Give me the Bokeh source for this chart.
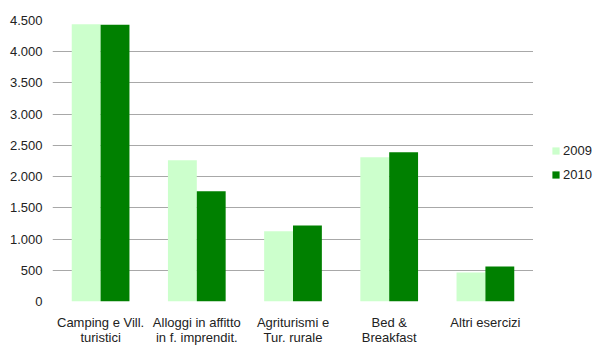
from bokeh.plotting import figure
from bokeh.models import ColumnDataSource, FactorRange, Range1d, Legend, LegendItem, FixedTicker
from bokeh.layouts import row
from bokeh.transform import dodge
from bokeh.embed import file_html
from bokeh.resources import INLINE

categories = ["Camping e Vill.\nturistici", "Alloggi in affitto\nin f. imprendit.",
              "Agriturismi e\nTur. rurale", "Bed &\nBreakfast", "Altri esercizi"]
values_2009 = [4440, 2262, 1123, 2310, 465]
values_2010 = [4430, 1765, 1219, 2390, 561]
series_names = ["2009", "2010"]
colors = ["#ccffcc", "#008000"]
y_ticks = [0, 500, 1000, 1500, 2000, 2500, 3000, 3500, 4000, 4500]
y_tick_labels = ["0", "500", "1.000", "1.500", "2.000", "2.500", "3.000", "3.500", "4.000", "4.500"]

source = ColumnDataSource(dict(cat=categories, v2009=values_2009, v2010=values_2010))

p = figure(frame_width=481, frame_height=281, x_range=FactorRange(*categories, range_padding=0),
           y_range=(0, 4500), output_backend="svg", toolbar_location=None,
           min_border_left=52, min_border_right=0, min_border_top=20, min_border_bottom=0)
p.outline_line_color = None
p.background_fill_color = "white"
p.border_fill_color = "white"

r1 = p.vbar(x=dodge("cat", -0.15, range=p.x_range), top="v2009", width=0.3,
            source=source, fill_color=colors[0], line_color=None)
r2 = p.vbar(x=dodge("cat", 0.15, range=p.x_range), top="v2010", width=0.3,
            source=source, fill_color=colors[1], line_color=None)

p.xgrid.grid_line_color = None
p.ygrid.grid_line_color = "#a8a8a8"
p.ygrid.grid_line_width = 1
p.yaxis.ticker = FixedTicker(ticks=y_ticks)
p.yaxis.major_label_overrides = {t: l for t, l in zip(y_ticks, y_tick_labels)}

for ax in (p.xaxis[0], p.yaxis[0]):
    ax.axis_line_color = None
    ax.major_tick_line_color = None
    ax.minor_tick_line_color = None
    ax.major_tick_in = 0
    ax.major_tick_out = 0
    ax.minor_tick_in = 0
    ax.minor_tick_out = 0
    ax.major_label_text_font = "Liberation Sans"
    ax.major_label_text_font_size = "13px"
    ax.major_label_text_color = "#222222"
p.yaxis.major_label_standoff = 10
p.xaxis.major_label_standoff = 13
p.xaxis.major_label_text_line_height = 1.0

# legend panel: zero-size proxy bars from the same data, outside its visible y range
lg = figure(width=62, height=345, output_backend="svg", toolbar_location=None,
            min_border=0, x_range=FactorRange(*categories), y_range=Range1d(10000, 10001))
lg.outline_line_color = None
lg.axis.visible = False
lg.grid.visible = False
l1 = lg.vbar(x="cat", top="v2009", bottom="v2009", width=0, source=source,
             fill_color=colors[0], line_color=None)
l2 = lg.vbar(x="cat", top="v2010", bottom="v2010", width=0, source=source,
             fill_color=colors[1], line_color=None)
legend = Legend(items=[LegendItem(label=series_names[0], renderers=[l1]),
                       LegendItem(label=series_names[1], renderers=[l2])],
                location=(18, 117), orientation="vertical",
                glyph_width=9, glyph_height=9, label_standoff=3, spacing=9,
                padding=0, margin=0, border_line_color=None, background_fill_alpha=0,
                label_text_font="Liberation Sans", label_text_font_size="13px",
                label_text_color="#222222")
lg.add_layout(legend)

layout = row(p, lg, spacing=0)
open("out.html", "w").write(file_html(layout, INLINE))
